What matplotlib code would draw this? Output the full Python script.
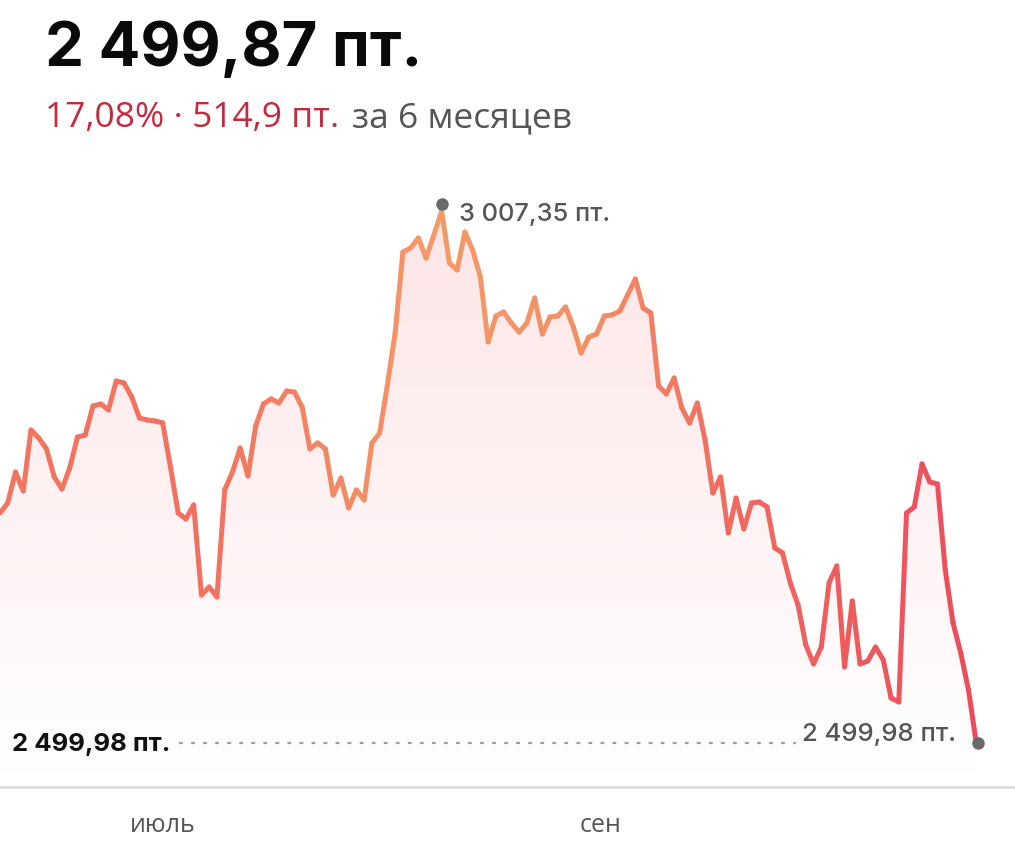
import numpy as np
import matplotlib
matplotlib.use("Agg")
import matplotlib.pyplot as plt
from matplotlib.collections import LineCollection
from matplotlib.colors import LinearSegmentedColormap, to_rgb

# index values (points), roughly daily closes over 6 months
values = [
    2719.3, 2728.9, 2758.4, 2740.3, 2798.5, 2790.9, 2780.4, 2753.7, 2742.2, 2762.3,
    2791.8, 2793.7, 2821.4, 2823.3, 2817.6, 2845.2, 2843.3, 2830.0, 2809.9, 2808.0,
    2807.1, 2805.2, 2763.2, 2719.3, 2713.6, 2727.0, 2641.1, 2648.8, 2639.2, 2741.3,
    2758.4, 2781.3, 2754.6, 2802.3, 2823.3, 2828.1, 2824.2, 2835.7, 2834.7, 2820.4,
    2780.4, 2786.1, 2780.4, 2736.5, 2752.7, 2724.1, 2741.3, 2731.7, 2786.1, 2795.6,
    2841.4, 2891.0, 2968.2, 2972.1, 2981.6, 2962.5, 2984.4, 3007.35, 2957.8, 2951.1,
    2987.3, 2970.1, 2944.4, 2882.4, 2907.2, 2911.0, 2900.5, 2891.9, 2900.5, 2924.4,
    2890.0, 2906.3, 2907.2, 2915.8, 2896.7, 2871.9, 2887.2, 2890.0, 2907.2, 2908.2,
    2912.0, 2927.2, 2942.5, 2914.8, 2910.1, 2840.5, 2832.8, 2848.1, 2819.5, 2805.2,
    2824.2, 2789.0, 2738.4, 2753.7, 2700.3, 2733.6, 2704.1, 2728.9, 2729.8, 2725.1,
    2686.0, 2681.2, 2652.6, 2631.6, 2593.5, 2575.3, 2591.5, 2652.6, 2668.8, 2572.5,
    2635.4, 2575.3, 2578.2, 2591.5, 2579.2, 2542.9, 2539.1, 2719.3, 2725.1, 2766.1,
    2748.9, 2747.0, 2665.0, 2614.4, 2585.8, 2550.5, 2499.98,
]
month_pos = [21, 77.5]
month_labels = ["июль", "сен"]
title_text = "2 499,87 пт."
change_text = "17,08% · 514,9 пт."
period_text = "за 6 месяцев"
max_label = "3 007,35 пт."
min_label = "2 499,98 пт."

x = np.arange(len(values))
y = np.array(values)
i_max = int(np.argmax(y))
i_min = int(np.argmin(y))

fig = plt.figure(figsize=(10.15, 8.59), dpi=100)
ax = fig.add_axes([0, 0.08382, 1, 0.72992])
ymin, ymax = 2458.0, 3056.0

# gradient fill under the line
poly = ax.fill_between(x, y, ymin, facecolor="none", edgecolor="none")
grad = np.zeros((256, 1, 4))
grad[:, 0, :3] = to_rgb("#f2646c")
grad[:, 0, 3] = np.linspace(0.0, 0.17, 256)
im = ax.imshow(grad, extent=(0, x[-1], ymin, y.max()), origin="lower",
               aspect="auto", zorder=1)
im.set_clip_path(poly.get_paths()[0], transform=ax.transData)

# line with horizontal colour gradient
cmap = LinearSegmentedColormap.from_list(
    "line", [(0, "#f2765f"), (0.2, "#f2705f"), (0.45, "#f49a68"),
             (0.62, "#f38c65"), (0.75, "#f06a5f"), (1, "#ee4a5b")])
pts = np.column_stack([x, y]).reshape(-1, 1, 2)
segs = np.concatenate([pts[:-1], pts[1:]], axis=1)
lc = LineCollection(segs, colors=cmap((x[:-1] + 0.5) / x[-1]), linewidth=3.6,
                    capstyle="round", joinstyle="round", zorder=3)
ax.add_collection(lc)

# min reference dotted line
ax.plot([23.2, 102.6], [y[i_min], y[i_min]], color="#9c9c9c", lw=1.7,
        linestyle=(0, (0.8, 4.3)), dash_capstyle="round", zorder=2)

# markers
ax.plot([x[i_max]], [y[i_max] + 7], "o", color="#6a6a6a", ms=8, zorder=4)
ax.plot([x[-1] + 0.2], [y[-1]], "o", color="#6a6a6a", ms=8, zorder=4, clip_on=False)

ax.annotate(max_label, xy=(x[i_max], y[i_max]), xytext=(17, -3),
            textcoords="offset pixels", va="center", ha="left",
            fontsize=18.3, color="#555555", fontfamily="Inter", fontweight="medium")
ax.annotate(min_label, xy=(x[-1], y[-1]), xytext=(-20, 8),
            textcoords="offset pixels", va="center", ha="right",
            fontsize=18.5, color="#555555", fontfamily="Inter", fontweight="medium")

ax.set_xlim(0, 131.0)
ax.set_ylim(ymin, ymax)
for s in ["top", "left", "right"]:
    ax.spines[s].set_visible(False)
ax.spines["bottom"].set_color("#dedede")
ax.spines["bottom"].set_linewidth(2.2)
ax.set_yticks([])
ax.set_xticks(month_pos, labels=month_labels)
ax.tick_params(axis="x", length=0, pad=19, labelsize=18, labelcolor="#555555")
for lab in ax.get_xticklabels():
    lab.set_fontfamily("Open Sans")

# header texts
fig.text(45 / 1015, 1 - 66 / 859, title_text, fontsize=44.5, fontweight="bold",
         fontfamily="Inter", color="#0a0a0a", va="baseline")
t1 = fig.text(45 / 1015, 1 - 127 / 859, change_text, fontsize=25.5,
              fontfamily="Open Sans", fontweight="medium", color="#c42a3e",
              va="baseline")
fig.canvas.draw()
bb = t1.get_window_extent()
fig.text((bb.x1 + 13) / 1015, 1 - 127 / 859, period_text, fontsize=25.5,
         fontfamily="Open Sans", color="#555555", va="baseline")

# y-side label of the minimum
fig.text(12 / 1015, 1 - 745 / 859, min_label, fontsize=18.5, fontweight="bold",
         fontfamily="Inter", color="#111111", va="center")

fig.savefig("out.png", dpi=100, facecolor="white")
